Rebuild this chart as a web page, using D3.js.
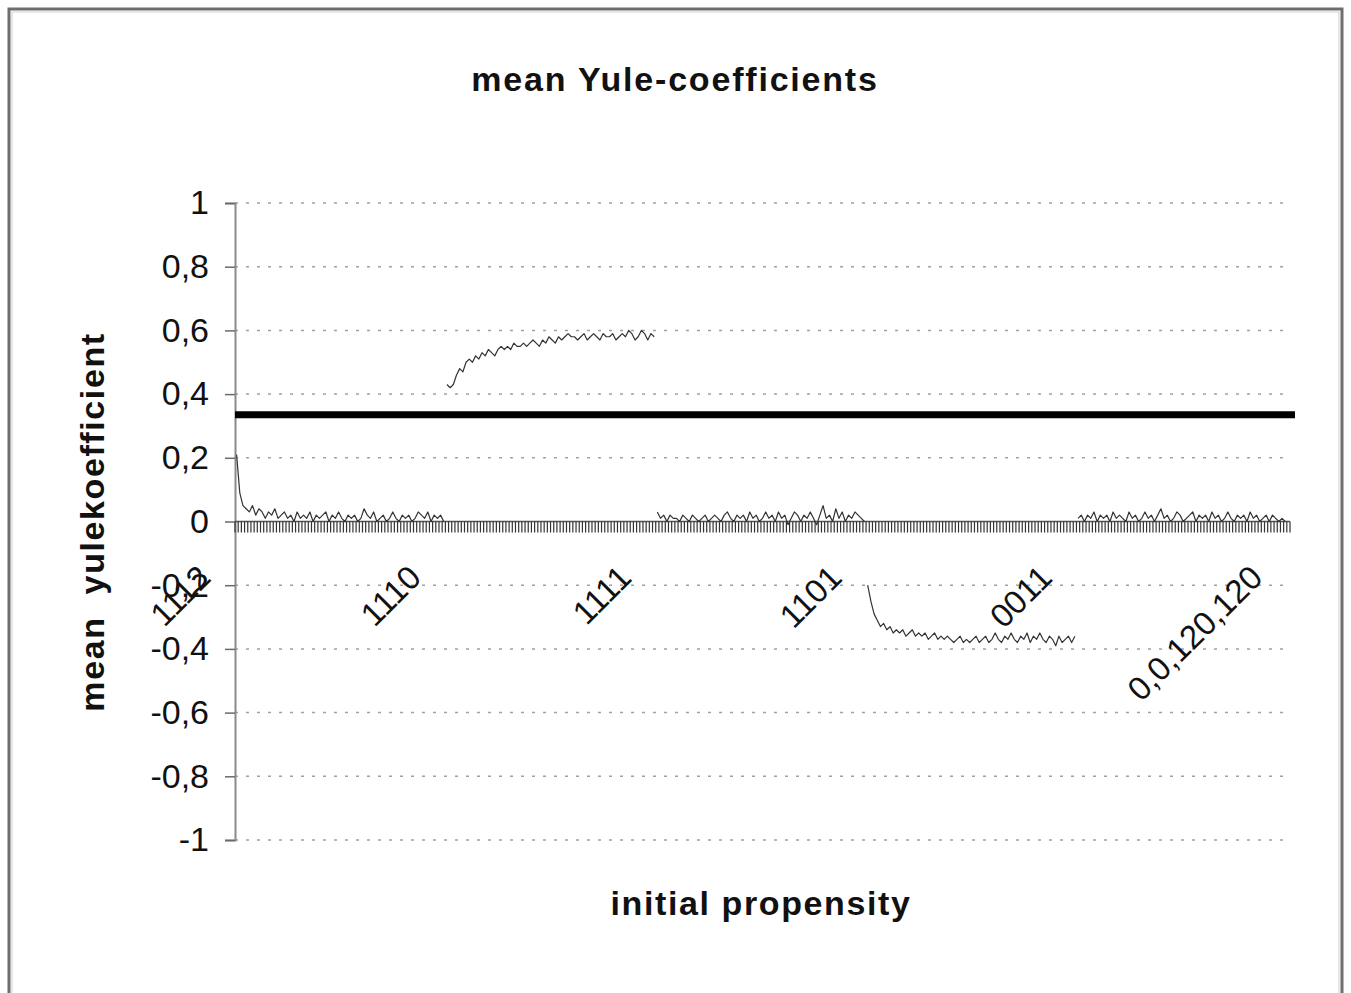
<!DOCTYPE html>
<html>
<head>
<meta charset="utf-8">
<script src="https://cdnjs.cloudflare.com/ajax/libs/d3/7.8.5/d3.min.js"></script>
<style>
  body { margin: 0; background: #fff; }
  text { font-family: "Liberation Sans", Arial, sans-serif; fill: #111; }
</style>
</head>
<body>
<div class="chart"></div>
<script>
'use strict';

// initial propensities (category groups along the x axis)
const propensities = ["1112", "1110", "1111", "1101", "0011", "0,0,120,120"];

// mean yule coefficient per run, one array per propensity
const yule1112 = [0.21, 0.09, 0.05, 0.04, 0.03, 0.05, 0.02, 0.04, 0.03, 0.01, 0.03, 0.02, 0.04, 0.01, 0.02, 0.03,
  0.01, 0.02, 0.00, 0.03, 0.01, 0.02, 0.01, 0.03, 0.00, 0.02, 0.01, 0.02, 0.03, 0.00, 0.02, 0.01, 0.03, 0.01,
  0.00, 0.02, 0.01, 0.02, 0.00, 0.01, 0.04, 0.02, 0.01, 0.03, 0.00, 0.01, 0.02, 0.00, 0.01, 0.03, 0.01, 0.00,
  0.02, 0.01, 0.02, 0.00, 0.01, 0.03, 0.02, 0.01, 0.03, 0.00, 0.02, 0.01, 0.02, 0.00];
const yule1110 = [0.43, 0.42, 0.43, 0.46, 0.48, 0.47, 0.50, 0.51, 0.50, 0.52, 0.51, 0.53, 0.52, 0.54, 0.53, 0.52,
  0.54, 0.55, 0.54, 0.55, 0.54, 0.56, 0.55, 0.55, 0.56, 0.55, 0.56, 0.57, 0.56, 0.55, 0.57, 0.56, 0.58, 0.57,
  0.56, 0.58, 0.57, 0.58, 0.59, 0.58, 0.58, 0.57, 0.58, 0.59, 0.57, 0.58, 0.59, 0.58, 0.57, 0.59, 0.58, 0.58,
  0.59, 0.57, 0.58, 0.59, 0.58, 0.60, 0.59, 0.57, 0.58, 0.60, 0.59, 0.57, 0.59, 0.58];
const yule1111 = [0.03, 0.01, 0.02, 0.00, 0.02, 0.01, 0.01, 0.00, 0.02, 0.01, 0.00, 0.02, 0.01, 0.00, 0.01, 0.02,
  0.00, 0.01, 0.02, 0.01, 0.00, 0.02, 0.03, 0.01, 0.00, 0.02, 0.01, 0.02, 0.00, 0.03, 0.01, 0.02, 0.00, 0.01,
  0.03, 0.01, 0.02, 0.00, 0.03, 0.01, 0.02, -0.01, 0.01, 0.03, 0.02, 0.00, 0.02, 0.01, 0.03, 0.01, -0.01, 0.02,
  0.05, 0.01, 0.02, 0.00, 0.04, 0.01, 0.03, 0.00, 0.02, 0.01, 0.03, 0.02, 0.01, 0.00];
const yule1101 = [-0.20, -0.25, -0.29, -0.31, -0.33, -0.32, -0.34, -0.33, -0.35, -0.34, -0.35, -0.34, -0.36, -0.35,
  -0.34, -0.36, -0.35, -0.36, -0.35, -0.37, -0.36, -0.35, -0.37, -0.36, -0.37, -0.36, -0.37, -0.38, -0.37, -0.36,
  -0.38, -0.37, -0.38, -0.37, -0.36, -0.38, -0.37, -0.36, -0.38, -0.37, -0.35, -0.37, -0.38, -0.36, -0.37, -0.35,
  -0.37, -0.38, -0.36, -0.37, -0.35, -0.38, -0.36, -0.37, -0.35, -0.37, -0.38, -0.36, -0.37, -0.39, -0.36, -0.38,
  -0.37, -0.36, -0.38, -0.36];
const yule0011 = [0.01, 0.02, 0.00, 0.02, 0.01, 0.03, 0.00, 0.02, 0.01, 0.02, 0.00, 0.03, 0.01, 0.02, 0.01, 0.00,
  0.03, 0.01, 0.02, 0.00, 0.01, 0.03, 0.01, 0.02, 0.00, 0.02, 0.04, 0.01, 0.02, 0.00, 0.01, 0.03, 0.02, 0.00,
  0.01, 0.02, 0.03, 0.00, 0.02, 0.01, 0.02, 0.00, 0.03, 0.01, 0.02, 0.00, 0.01, 0.03, 0.01, 0.00, 0.02, 0.01,
  0.02, 0.00, 0.03, 0.01, 0.02, 0.00, 0.01, 0.02, 0.00, 0.02, 0.01, 0.00, 0.01, 0.00];

// overall mean (the thick reference line)
const overallMean = 0.335;

const yTicks = [-1, -0.8, -0.6, -0.4, -0.2, 0, 0.2, 0.4, 0.6, 0.8, 1];

(function() {

  let svg = "";

  window.onload = function() {
    svg = d3.select('.chart')
      .append('svg').attr('width', 1351).attr('height', 993);

    // outer frame (bottom edge runs off the page)
    svg.append('rect')
      .attr('x', 9).attr('y', 9)
      .attr('width', 1333).attr('height', 1020)
      .attr('fill', 'none')
      .attr('stroke', '#6e6e6e')
      .attr('stroke-width', 3);
    svg.append('rect')
      .attr('x', 12).attr('y', 12)
      .attr('width', 1327).attr('height', 1020)
      .attr('fill', 'none')
      .attr('stroke', '#d0d0d0')
      .attr('stroke-width', 1);

    let series = [yule1112, yule1110, yule1111, yule1101, yule0011];

    // flatten to one category per run; the last propensity gets a single empty slot
    let starts = [];
    let count = 0;
    let points = [];
    series.forEach((values, s) => {
      starts.push(count);
      values.forEach((v) => points.push({ idx: count++, value: v, group: s }));
    });
    starts.push(count);
    let nCats = count + 1;

    let map = drawAxes(nCats, starts);
    plotGraph(map, series, points, nCats);
    makeLabels();
  };

  function drawAxes(nCats, starts) {
    let xScale = d3.scaleLinear()
      .domain([0, nCats])
      .range([235, 1290]);

    let yScale = d3.scaleLinear()
      .domain([-1, 1])
      .range([840, 203]);

    let xMap = function(i) { return xScale(i + 0.5); };
    let yMap = function(v) { return yScale(v); };

    // dotted gridlines
    svg.append('g')
      .selectAll('line')
      .data(yTicks.filter((t) => t !== 0))
      .enter()
      .append('line')
        .attr('x1', xScale(0))
        .attr('x2', xScale(nCats))
        .attr('y1', (d) => yScale(d))
        .attr('y2', (d) => yScale(d))
        .attr('stroke', '#a0a0a0')
        .attr('stroke-width', 1.5)
        .attr('stroke-dasharray', '3,8');

    // y axis
    let yAxis = d3.axisLeft(yScale)
      .tickValues(yTicks)
      .tickSize(10)
      .tickPadding(16)
      .tickFormat((d) => d3.format('.1~f')(d).replace('.', ',').replace('−', '-'));
    let gy = svg.append('g')
      .attr('transform', 'translate(235, 0)')
      .call(yAxis);
    gy.select('.domain').attr('stroke', '#8a8a8a').attr('stroke-width', 2);
    gy.selectAll('.tick line').attr('stroke', '#6a6a6a').attr('stroke-width', 1.5);
    gy.selectAll('.tick text')
      .style('font-size', '34px')
      .style('font-family', '"Liberation Sans", Arial, sans-serif')
      .attr('fill', '#111');

    // category axis crossing at zero, one tick per run
    let y0 = yScale(0);
    svg.append('line')
      .attr('x1', xScale(0)).attr('x2', xScale(nCats))
      .attr('y1', y0).attr('y2', y0)
      .attr('stroke', '#555').attr('stroke-width', 1.5);

    svg.append('g')
      .selectAll('line')
      .data(d3.range(nCats + 1))
      .enter()
      .append('line')
        .attr('x1', (d) => xScale(d))
        .attr('x2', (d) => xScale(d))
        .attr('y1', y0)
        .attr('y2', y0 + 11)
        .attr('stroke', '#333')
        .attr('stroke-width', 1.2);

    // category labels, one per propensity
    svg.append('g')
      .selectAll('text')
      .data(propensities)
      .enter()
      .append('text')
        .attr('transform', (d, i) => 'translate(' + (xMap(starts[i]) - 24) + ',' + (y0 + 58) + ')rotate(-45)')
        .attr('text-anchor', 'end')
        .style('font-size', '33px')
        .text((d) => d);

    return {
      x: xMap,
      y: yMap,
      xScale: xScale,
      yScale: yScale
    };
  }

  function plotGraph(map, series, points, nCats) {
    let xMap = map.x;
    let yMap = map.y;

    let line = d3.line()
      .x((d) => xMap(d.idx))
      .y((d) => yMap(d.value));

    series.forEach((values, s) => {
      svg.append('path')
        .datum(points.filter((p) => p.group === s))
        .attr('fill', 'none')
        .attr('stroke', '#333')
        .attr('stroke-width', 1.2)
        .attr('stroke-linejoin', 'round')
        .attr('d', line);
    });

    // thick line for the overall mean
    svg.append('line')
      .attr('x1', map.xScale(0))
      .attr('x2', map.xScale(nCats) + 5)
      .attr('y1', yMap(overallMean))
      .attr('y2', yMap(overallMean))
      .attr('stroke', '#000')
      .attr('stroke-width', 7);
  }

  function makeLabels() {
    svg.append('text')
      .attr('x', 675)
      .attr('y', 91)
      .attr('text-anchor', 'middle')
      .style('font-size', '34px')
      .style('font-weight', 'bold')
      .style('letter-spacing', '1.8px')
      .text('mean Yule-coefficients');

    svg.append('text')
      .attr('x', 761)
      .attr('y', 915)
      .attr('text-anchor', 'middle')
      .style('font-size', '34px')
      .style('font-weight', 'bold')
      .style('letter-spacing', '1.6px')
      .text('initial propensity');

    svg.append('text')
      .attr('transform', 'translate(104, 522)rotate(-90)')
      .attr('text-anchor', 'middle')
      .style('font-size', '34px')
      .style('font-weight', 'bold')
      .style('letter-spacing', '1.6px')
      .style('white-space', 'pre')
      .text('mean  yulekoefficient');
  }

})();
</script>
</body>
</html>
